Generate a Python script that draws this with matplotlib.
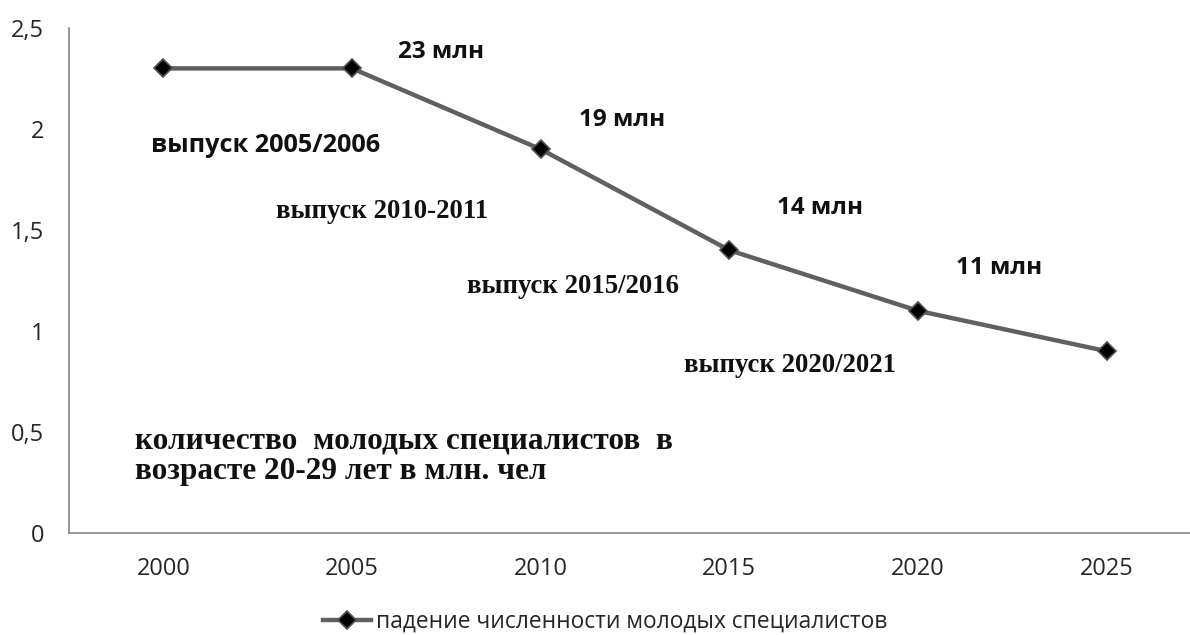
import matplotlib
matplotlib.use("Agg")
import matplotlib.pyplot as plt
from matplotlib.ticker import FuncFormatter

years = ["2000", "2005", "2010", "2015", "2020", "2025"]
values = [2.3, 2.3, 1.9, 1.4, 1.1, 0.9]
series_name = "падение численности молодых специалистов"
yticks = [0, 0.5, 1, 1.5, 2, 2.5]
mln_labels = ["23 млн", "19 млн", "14 млн", "11 млн"]
mln_pos = [(1.47, 2.38), (2.43, 2.045), (3.48, 1.61), (4.43, 1.31)]
grad_labels = ["выпуск 2005/2006", "выпуск 2010-2011", "выпуск 2015/2016", "выпуск 2020/2021"]
grad_pos = [(0.54, 1.92), (1.16, 1.59), (2.17, 1.22), (3.32, 0.83)]
note = "количество  молодых специалистов  в\nвозрасте 20-29 лет в млн. чел"

W, H = 1190, 635
fig = plt.figure(figsize=(W / 100, H / 100), dpi=100)
left, right, top, bottom = 69, 1201, 28, 533
ax = fig.add_axes([left / W, 1 - bottom / H, (right - left) / W, (bottom - top) / H])

x = list(range(len(years)))
ax.plot(x, values, color="#606060", lw=3.2, marker="D", markersize=9,
        markerfacecolor="black", markeredgecolor="#505050", markeredgewidth=1.2,
        label=series_name, solid_joinstyle="round")

ax.set_xlim(-0.5, len(years) - 0.5)
ax.set_ylim(0, 2.5)
ax.set_xticks(x)
ax.set_xticklabels(years)
ax.set_yticks(yticks)
ax.yaxis.set_major_formatter(FuncFormatter(lambda v, p: f"{v:g}".replace(".", ",")))
ax.tick_params(length=0, labelsize=17, colors="#262626")
ax.tick_params(axis="x", pad=17)
ax.tick_params(axis="y", pad=18)
for lab in ax.get_xticklabels() + ax.get_yticklabels():
    lab.set_fontfamily("Open Sans")
for s in ["top", "right"]:
    ax.spines[s].set_visible(False)
for s in ["left", "bottom"]:
    ax.spines[s].set_color("#868686")
    ax.spines[s].set_linewidth(1.2)

for t, (px, py) in zip(mln_labels, mln_pos):
    ax.text(px, py, t, ha="center", va="center", fontsize=17.5, fontweight="bold",
            family="Open Sans", color="#111111")

ax.text(grad_pos[0][0], grad_pos[0][1], grad_labels[0], ha="center", va="center",
        fontsize=18.2, fontweight="bold", family="Open Sans", color="#111111")
for t, (px, py) in zip(grad_labels[1:], grad_pos[1:]):
    ax.text(px, py, t, ha="center", va="center", fontsize=19.3, fontweight="bold",
            family="Liberation Serif", color="#111111")

ax.text(-0.15, 0.38, note, ha="left", va="center", fontsize=22.5, fontweight="bold",
        family="Liberation Serif", color="#111111", linespacing=1.05)

fig.legend(loc="center", bbox_to_anchor=(605 / W, 1 - 622 / H), frameon=False,
           prop={"family": "Open Sans", "size": 16.4}, handlelength=2.1,
           handletextpad=0.2, labelcolor="#262626")

fig.savefig("out.png", dpi=100)
